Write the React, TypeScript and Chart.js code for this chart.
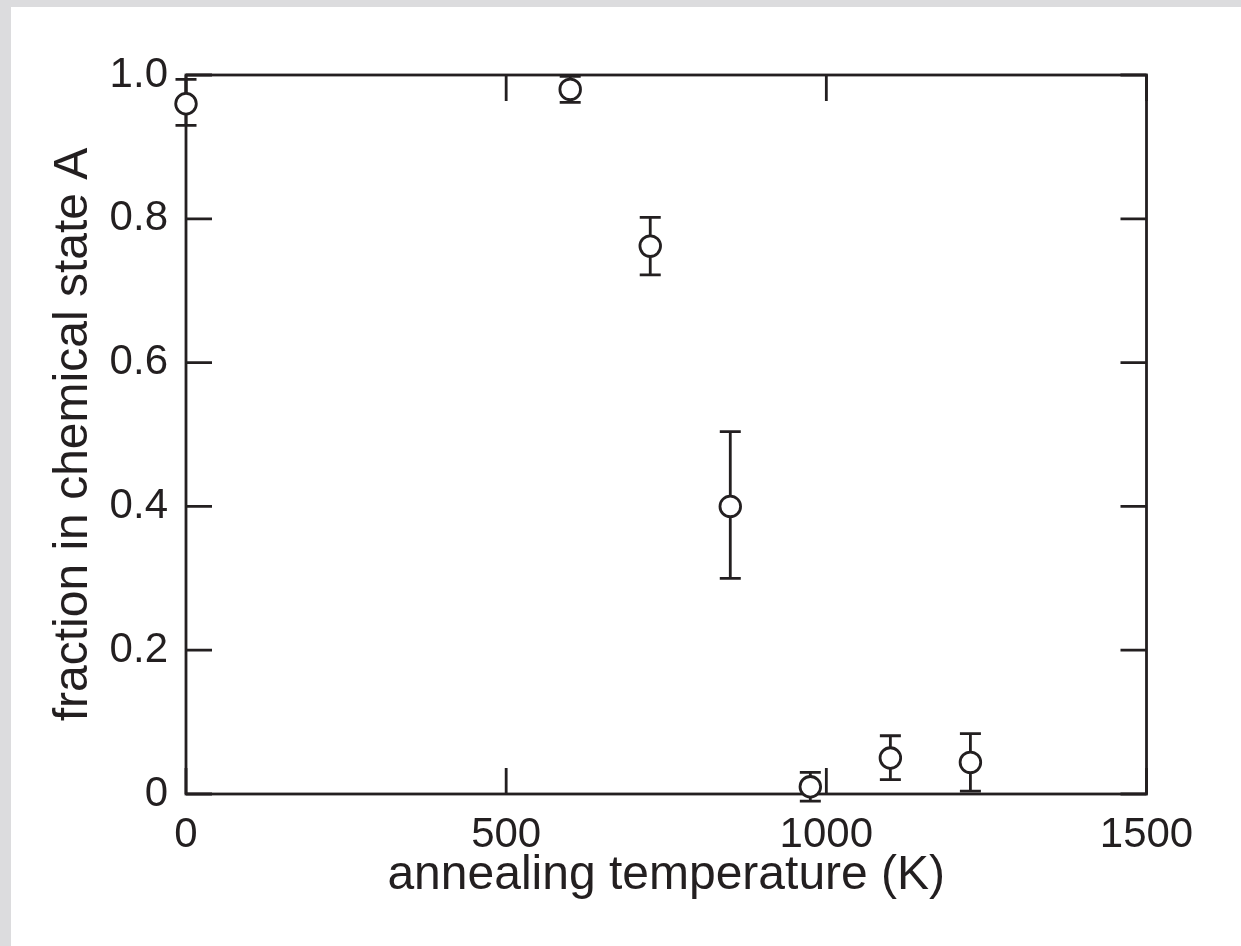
import React, { useEffect, useRef } from 'react';
import { Chart, registerables } from 'chart.js';

Chart.register(...registerables);

// Annealing temperature (K) and the fraction found in chemical state A
const temperatures = [0, 600, 725, 850, 975, 1100, 1225];
const fractionA = [0.96, 0.98, 0.762, 0.4, 0.01, 0.05, 0.044];
// asymmetric error bars: distance above and below each point
const errorUp = [0.034, 0.018, 0.04, 0.104, 0.02, 0.031, 0.04];
const errorDown = [0.03, 0.018, 0.04, 0.1, 0.02, 0.03, 0.04];

const xTickValues = [0, 500, 1000, 1500];
const xTickLabels = ['0', '500', '1000', '1500'];
const yTickValues = [0, 0.2, 0.4, 0.6, 0.8, 1.0];
const yTickLabels = ['0', '0.2', '0.4', '0.6', '0.8', '1.0'];

const INK = '#231f20';
const FONT = '"Liberation Sans", Arial, Helvetica, sans-serif';
const CANVAS_W = 1230;
const CANVAS_H = 939;

// Frame with inward tick marks on all four sides
const framePlugin = {
  id: 'frameTicks',
  beforeDatasetsDraw(chart: any) {
    const { ctx, chartArea } = chart;
    const xs = chart.scales.x;
    const ys = chart.scales.y;
    const len = 26;
    ctx.save();
    ctx.strokeStyle = INK;
    ctx.lineWidth = 2.8;
    ctx.lineCap = 'butt';
    ctx.strokeRect(chartArea.left, chartArea.top, chartArea.right - chartArea.left, chartArea.bottom - chartArea.top);
    ctx.beginPath();
    xTickValues.forEach((v) => {
      const px = xs.getPixelForValue(v);
      ctx.moveTo(px, chartArea.bottom);
      ctx.lineTo(px, chartArea.bottom - len);
      ctx.moveTo(px, chartArea.top);
      ctx.lineTo(px, chartArea.top + len);
    });
    yTickValues.forEach((v) => {
      const py = ys.getPixelForValue(v);
      ctx.moveTo(chartArea.left, py);
      ctx.lineTo(chartArea.left + len, py);
      ctx.moveTo(chartArea.right, py);
      ctx.lineTo(chartArea.right - len, py);
    });
    ctx.stroke();
    ctx.restore();
  },
};

// Vertical error bars with caps, drawn beneath the open circles
const errorBarPlugin = {
  id: 'errorBars',
  beforeDatasetsDraw(chart: any) {
    const { ctx } = chart;
    const xs = chart.scales.x;
    const ys = chart.scales.y;
    const cap = 10.5;
    ctx.save();
    ctx.strokeStyle = INK;
    ctx.lineWidth = 2.8;
    ctx.beginPath();
    temperatures.forEach((t, i) => {
      const px = xs.getPixelForValue(t);
      const top = ys.getPixelForValue(fractionA[i] + errorUp[i]);
      const bot = ys.getPixelForValue(fractionA[i] - errorDown[i]);
      ctx.moveTo(px, top);
      ctx.lineTo(px, bot);
      ctx.moveTo(px - cap, top);
      ctx.lineTo(px + cap, top);
      ctx.moveTo(px - cap, bot);
      ctx.lineTo(px + cap, bot);
    });
    ctx.stroke();
    ctx.restore();
  },
};

export default function App() {
  const canvasRef = useRef<HTMLCanvasElement | null>(null);

  useEffect(() => {
    document.body.style.margin = '0';
    document.body.style.background = '#dcdcde';
    document.body.style.overflow = 'hidden';
    if (!canvasRef.current) return;

    const chart = new Chart(canvasRef.current, {
      type: 'scatter',
      data: {
        datasets: [
          {
            label: 'fraction in chemical state A',
            data: temperatures.map((t, i) => ({ x: t, y: fractionA[i] })),
            pointStyle: 'circle',
            pointRadius: 10.3,
            pointBackgroundColor: '#ffffff',
            pointBorderColor: INK,
            pointBorderWidth: 2.8,
            showLine: false,
            clip: false as any,
          },
        ],
      },
      options: {
        animation: false,
        responsive: false,
        devicePixelRatio: 1,
        events: [],
        layout: { padding: { left: 0, right: 94.5, top: 68, bottom: 0 } },
        plugins: {
          legend: { display: false },
          tooltip: { enabled: false },
        },
        scales: {
          x: {
            type: 'linear',
            min: 0,
            max: 1500,
            afterBuildTicks: (s: any) => {
              s.ticks = xTickValues.map((v) => ({ value: v }));
            },
            afterFit: (s: any) => {
              s.height = 152;
            },
            grid: { display: false, drawTicks: false },
            border: { display: false },
            ticks: {
              padding: 16,
              color: INK,
              font: { family: FONT, size: 42 },
              maxRotation: 0,
              callback: (v: any) => xTickLabels[xTickValues.indexOf(Number(v))] ?? '',
            },
            title: {
              display: true,
              text: 'annealing temperature (K)',
              color: INK,
              font: { family: FONT, size: 48 },
              padding: { top: 0, bottom: 41 },
            },
          },
          y: {
            type: 'linear',
            min: 0,
            max: 1,
            afterBuildTicks: (s: any) => {
              s.ticks = yTickValues.map((v) => ({ value: v }));
            },
            afterFit: (s: any) => {
              s.width = 175;
            },
            grid: { display: false, drawTicks: false },
            border: { display: false },
            ticks: {
              padding: 18,
              color: INK,
              font: { family: FONT, size: 42 },
              callback: (v: any) => {
                const idx = yTickValues.findIndex((t) => Math.abs(t - Number(v)) < 1e-9);
                return idx >= 0 ? yTickLabels[idx] : '';
              },
            },
            title: {
              display: true,
              text: 'fraction in chemical state A',
              color: INK,
              font: { family: FONT, size: 48 },
              padding: { top: 34, bottom: 0 },
            },
          },
        },
      } as any,
      plugins: [framePlugin, errorBarPlugin],
    });

    return () => chart.destroy();
  }, []);

  return (
    <div style={{ paddingLeft: 11, paddingTop: 7, background: '#dcdcde', width: CANVAS_W, height: CANVAS_H }}>
      <div style={{ background: '#ffffff', width: CANVAS_W, height: CANVAS_H }}>
        <canvas
          ref={canvasRef}
          width={CANVAS_W}
          height={CANVAS_H}
          style={{ display: 'block', width: CANVAS_W, height: CANVAS_H }}
        />
      </div>
    </div>
  );
}
